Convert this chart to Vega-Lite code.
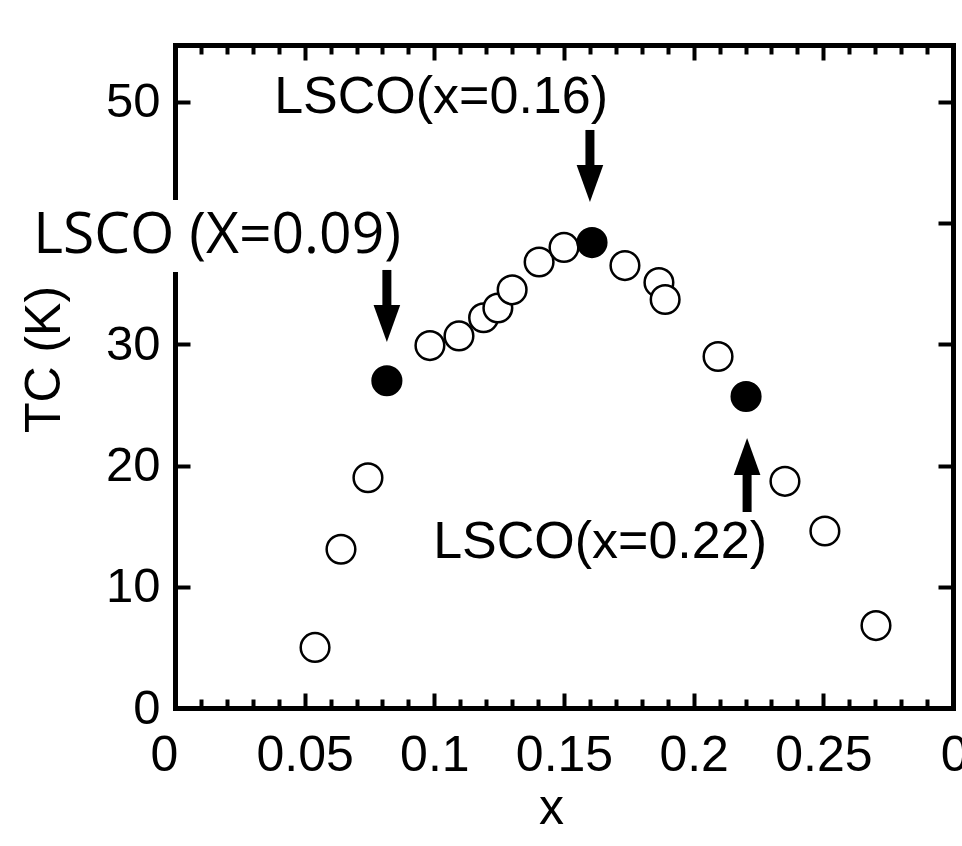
{
  "$schema": "https://vega.github.io/schema/vega-lite/v6.json",
  "width": 778,
  "height": 663,
  "autosize": {"type": "none"},
  "padding": {"left": 175, "top": 45, "right": 9, "bottom": 138},
  "background": "white",
  "config": {"view": {"stroke": null}, "font": "Liberation Sans"},
  "datasets": {
    "points": [
      {"x": 0.054, "tc": 5.0, "kind": "open"},
      {"x": 0.064, "tc": 13.1, "kind": "open"},
      {"x": 0.0744, "tc": 19.0, "kind": "open"},
      {"x": 0.0817, "tc": 27.0, "kind": "filled"},
      {"x": 0.0983, "tc": 29.9, "kind": "open"},
      {"x": 0.1095, "tc": 30.7, "kind": "open"},
      {"x": 0.119, "tc": 32.2, "kind": "open"},
      {"x": 0.1245, "tc": 33.0, "kind": "open"},
      {"x": 0.130, "tc": 34.5, "kind": "open"},
      {"x": 0.1404, "tc": 36.8, "kind": "open"},
      {"x": 0.150, "tc": 38.0, "kind": "open"},
      {"x": 0.1608, "tc": 38.4, "kind": "filled"},
      {"x": 0.1735, "tc": 36.5, "kind": "open"},
      {"x": 0.1866, "tc": 35.1, "kind": "open"},
      {"x": 0.189, "tc": 33.7, "kind": "open"},
      {"x": 0.2094, "tc": 29.0, "kind": "open"},
      {"x": 0.2202, "tc": 25.7, "kind": "filled"},
      {"x": 0.2352, "tc": 18.7, "kind": "open"},
      {"x": 0.2506, "tc": 14.6, "kind": "open"},
      {"x": 0.2703, "tc": 6.8, "kind": "open"}
    ],
    "box": [{"x1": -0.0578, "x2": 0.0887, "y1": 35.97, "y2": 41.91}],
    "arrows": [
      {"x": 0.16, "y1": 47.69, "y2": 44.6, "yh": 43.28, "dir": "down"},
      {"x": 0.0817, "y1": 36.14, "y2": 33.05, "yh": 31.72, "dir": "down"},
      {"x": 0.2206, "y1": 16.17, "y2": 19.6, "yh": 20.75, "dir": "up"}
    ],
    "labels": [
      {"x": 0.1026, "y": 49.09, "text": "LSCO(x=0.16)"},
      {"x": 0.1639, "y": 12.38, "text": "LSCO(x=0.22)"}
    ],
    "label09": [
      {"x": -0.0547, "y": 37.54, "text": "LSCO (X=0.09)"}
    ]
  },
  "resolve": {"axis": {"x": "independent", "y": "independent"}},
  "layer": [
    {
      "data": {"name": "points"},
      "mark": {"type": "circle", "stroke": "black", "strokeWidth": 2.5, "opacity": 1},
      "encoding": {
        "x": {
          "field": "x", "type": "quantitative",
          "scale": {"domain": [0, 0.3], "nice": false, "zero": false},
          "axis": {
            "orient": "bottom",
            "values": [0,0.01,0.02,0.03,0.04,0.05,0.06,0.07,0.08,0.09,0.1,0.11,0.12,0.13,0.14,0.15,0.16,0.17,0.18,0.19,0.2,0.21,0.22,0.23,0.24,0.25,0.26,0.27,0.28,0.29,0.3],
            "grid": false,
            "domainColor": "black", "domainWidth": 5, "domainCap": "square",
            "tickColor": "black", "tickWidth": 4,
            "tickSize": {"condition": {"test": "round(datum.value*100) % 5 == 0", "value": -15}, "value": -9},
            "labelExpr": "round(datum.value*100) % 5 == 0 ? toString(round(datum.value*100)/100) : ''",
            "labelOffset": {"condition": [{"test": "datum.value == 0", "value": -11}, {"test": "round(datum.value*100) == 30", "value": 22}], "value": 0},
            "labelFont": "Liberation Sans", "labelFontSize": 50, "labelColor": "black",
            "labelPadding": 37, "labelFlush": false, "labelOverlap": false, "labelBound": false,
            "title": "x", "titleFont": "Liberation Sans", "titleFontSize": 50, "titleFontWeight": "normal",
            "titleColor": "black", "titleX": 376, "titleY": 115, "titleBaseline": "alphabetic", "titleAlign": "center"
          }
        },
        "y": {
          "field": "tc", "type": "quantitative",
          "scale": {"domain": [0, 54.7], "nice": false, "zero": false},
          "axis": {
            "orient": "left",
            "values": [0, 10, 20, 30, 40, 50],
            "grid": false,
            "domainColor": "black", "domainWidth": 5, "domainCap": "square",
            "tickColor": "black", "tickWidth": 4, "tickSize": -15,
            "labelExpr": "datum.value == 40 ? '' : datum.label",
            "labelFont": "Liberation Sans", "labelFontSize": 49, "labelColor": "black",
            "labelPadding": 30, "labelOverlap": false, "labelBound": false, "labelFlush": false,
            "title": "TC (K)", "titleFont": "Liberation Sans", "titleFontSize": 50, "titleFontWeight": "normal",
            "titleColor": "black", "titleX": -116, "titleY": 314, "titleBaseline": "alphabetic", "titleAlign": "center", "titleAngle": 270
          }
        },
        "fill": {
          "field": "kind", "type": "nominal",
          "scale": {"domain": ["open", "filled"], "range": ["white", "black"]},
          "legend": null
        },
        "size": {"value": 820}
      }
    },
    {
      "data": {"name": "box"},
      "mark": {"type": "rect", "fill": "white", "stroke": null},
      "encoding": {
        "x": {
          "field": "x1", "type": "quantitative",
          "scale": {"domain": [0, 0.3], "nice": false, "zero": false},
          "axis": {
            "orient": "top",
            "values": [0,0.01,0.02,0.03,0.04,0.05,0.06,0.07,0.08,0.09,0.1,0.11,0.12,0.13,0.14,0.15,0.16,0.17,0.18,0.19,0.2,0.21,0.22,0.23,0.24,0.25,0.26,0.27,0.28,0.29,0.3],
            "grid": false, "labels": false, "title": null,
            "domainColor": "black", "domainWidth": 5, "domainCap": "square",
            "tickColor": "black", "tickWidth": 4,
            "tickSize": {"condition": {"test": "round(datum.value*100) % 5 == 0", "value": -15}, "value": -9}
          }
        },
        "x2": {"field": "x2"},
        "y": {
          "field": "y1", "type": "quantitative",
          "scale": {"domain": [0, 54.7], "nice": false, "zero": false},
          "axis": {
            "orient": "right",
            "values": [0, 10, 20, 30, 40, 50],
            "grid": false, "labels": false, "title": null,
            "domainColor": "black", "domainWidth": 5, "domainCap": "square",
            "tickColor": "black", "tickWidth": 4, "tickSize": -15
          }
        },
        "y2": {"field": "y2"}
      }
    },
    {
      "data": {"name": "arrows"},
      "mark": {"type": "rule", "color": "black", "strokeWidth": 9, "strokeCap": "butt"},
      "encoding": {
        "x": {"field": "x", "type": "quantitative", "axis": null},
        "y": {"field": "y1", "type": "quantitative", "axis": null},
        "y2": {"field": "y2"}
      }
    },
    {
      "data": {"name": "arrows"},
      "mark": {"type": "point", "filled": true, "color": "black", "opacity": 1, "size": 1369},
      "encoding": {
        "x": {"field": "x", "type": "quantitative", "axis": null},
        "y": {"field": "yh", "type": "quantitative", "axis": null},
        "shape": {
          "field": "dir", "type": "nominal",
          "scale": {"domain": ["down", "up"], "range": ["M-0.72,-1L0.72,-1L0,1Z", "M-0.72,1L0.72,1L0,-1Z"]},
          "legend": null
        }
      }
    },
    {
      "data": {"name": "labels"},
      "mark": {"type": "text", "font": "Liberation Sans", "fontSize": 52, "color": "black", "align": "center", "baseline": "alphabetic"},
      "encoding": {
        "x": {"field": "x", "type": "quantitative", "axis": null},
        "y": {"field": "y", "type": "quantitative", "axis": null},
        "text": {"field": "text"}
      }
    },
    {
      "data": {"name": "label09"},
      "mark": {"type": "text", "font": "Open Sans", "fontSize": 57, "color": "black", "align": "left", "baseline": "alphabetic"},
      "encoding": {
        "x": {"field": "x", "type": "quantitative", "axis": null},
        "y": {"field": "y", "type": "quantitative", "axis": null},
        "text": {"field": "text"}
      }
    }
  ]
}
